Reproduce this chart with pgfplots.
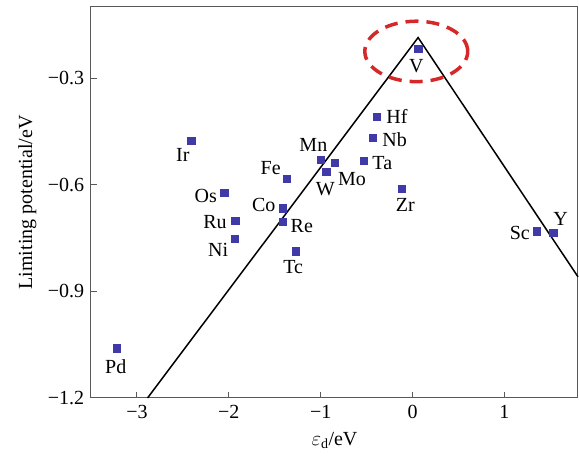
\documentclass[border=0pt]{standalone}
\usepackage{pgfplots}
\pgfplotsset{compat=1.18}
\usepackage{fontspec}
\setmainfont{Liberation Serif}
\definecolor{mk}{RGB}{64,58,168}
\definecolor{rd}{RGB}{214,40,40}
\begin{document}
\fontsize{20}{24}\selectfont
\begin{tikzpicture}[font=\fontsize{20}{24}\selectfont]
\begin{axis}[
  scale only axis, width=487pt, height=391pt,
  xmin=-3.5, xmax=1.8, ymin=-1.2, ymax=-0.1,
  xtick={-3,-2,-1,0,1}, xticklabels={−3,−2,−1,0,1},
  ytick={-1.2,-0.9,-0.6,-0.3}, yticklabels={−1.2,−0.9,−0.6,−0.3},
  tick pos=left, tick align=inside, major tick length=6pt,
  axis line style={draw=black!65, line width=1pt},
  every tick/.style={black!65, line width=1pt},
  tick label style={font=\fontsize{20}{24}\selectfont},
  label style={font=\fontsize{20}{24}\selectfont},
  xlabel={$\varepsilon_{\mathrm{d}}$/eV},
  ylabel={Limiting potential/eV},
  ylabel style={yshift=-2pt},
  clip=false,
]
\addplot[black, line width=1.5pt] coordinates {(-2.885,-1.2) (0.06,-0.186) (1.8,-0.859)};
\addplot[only marks, mark=square*, mark size=3.6pt, mk] table {
x y
0.06 -0.218
-0.39 -0.409
-0.43 -0.467
-0.53 -0.533
-2.41 -0.476
-1.00 -0.530
-0.85 -0.539
-0.94 -0.564
-1.37 -0.582
-0.12 -0.611
-2.05 -0.623
-1.41 -0.666
-1.41 -0.704
-1.93 -0.702
1.35 -0.731
1.53 -0.735
-1.94 -0.751
-1.27 -0.787
-3.22 -1.060
};
\draw[rd, line width=3.5pt, dash pattern=on 13pt off 8pt] (axis cs:0.04,-0.225) ellipse [x radius=0.56, y radius=0.085];
\node at (axis cs:0.04,-0.267) {V};
\node at (axis cs:-0.17,-0.409) {Hf};
\node at (axis cs:-0.196,-0.473) {Nb};
\node at (axis cs:-0.33,-0.538) {Ta};
\node at (axis cs:-2.50,-0.517) {Ir};
\node at (axis cs:-1.08,-0.487) {Mn};
\node at (axis cs:-0.66,-0.585) {Mo};
\node at (axis cs:-0.95,-0.613) {W};
\node at (axis cs:-1.544,-0.552) {Fe};
\node at (axis cs:-0.08,-0.657) {Zr};
\node at (axis cs:-2.25,-0.633) {Os};
\node at (axis cs:-1.62,-0.657) {Co};
\node at (axis cs:-1.206,-0.715) {Re};
\node at (axis cs:-2.15,-0.706) {Ru};
\node at (axis cs:-2.116,-0.783) {Ni};
\node at (axis cs:-1.30,-0.832) {Tc};
\node at (axis cs:-3.23,-1.112) {Pd};
\node at (axis cs:1.167,-0.736) {Sc};
\node at (axis cs:1.61,-0.697) {Y};
\end{axis}
\pgfresetboundingbox
\path (current axis.south west) ++(-91pt,-59pt) rectangle ++(579pt,457pt);
\end{tikzpicture}
\end{document}
